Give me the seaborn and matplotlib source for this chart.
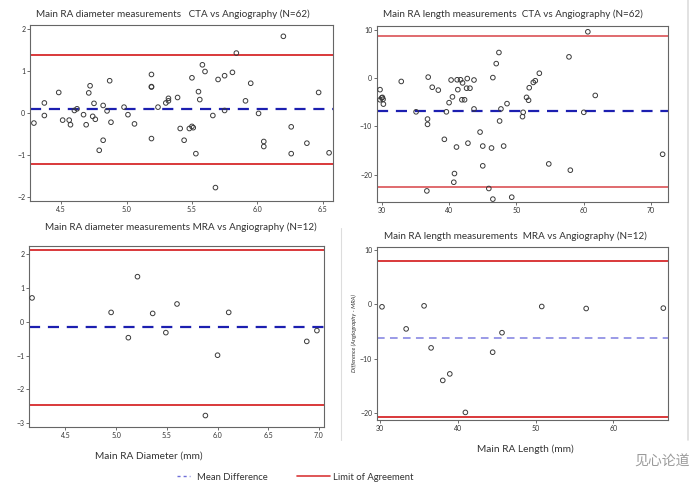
import matplotlib
matplotlib.use("Agg")
import matplotlib.pyplot as plt
import seaborn as sns
from matplotlib.lines import Line2D

# ---------------- data ----------------
cta_diam_x = [4.29, 4.37, 4.37, 4.48, 4.51, 4.56, 4.57, 4.60, 4.62, 4.67, 4.69, 4.71, 4.72, 4.74,
              4.75, 4.76, 4.79, 4.82, 4.82, 4.85, 4.87, 4.88, 4.98, 5.01, 5.06, 5.19, 5.19, 5.19,
              5.19, 5.24, 5.30, 5.32, 5.32, 5.39, 5.41, 5.44, 5.48, 5.50, 5.51, 5.50, 5.53, 5.55,
              5.56, 5.58, 5.60, 5.66, 5.68, 5.70, 5.75, 5.75, 5.81, 5.84, 5.91, 5.95, 6.01, 6.05,
              6.05, 6.20, 6.26, 6.26, 6.38, 6.47, 6.55]
cta_diam_y = [-0.24, 0.24, -0.06, 0.49, -0.17, -0.17, -0.28, 0.06, 0.10, -0.04, -0.28, 0.48, 0.65, -0.08,
              0.23, -0.15, -0.89, -0.65, 0.18, 0.05, 0.77, -0.22, 0.14, -0.04, -0.26, 0.63, 0.62, 0.92,
              -0.61, 0.14, 0.24, 0.35, 0.29, 0.37, -0.37, -0.65, -0.37, -0.32, -0.35, 0.84, -0.97, 0.51,
              0.32, 1.15, 0.99, -0.06, -1.78, 0.80, 0.06, 0.89, 0.97, 1.43, 0.29, 0.71, -0.01, -0.68,
              -0.80, 1.83, -0.33, -0.97, -0.72, 0.49, -0.95]
cta_diam_mean = 0.09
cta_diam_loa = [1.39, -1.22]

cta_len_x = [29.75, 29.75, 30.0, 30.1, 30.2, 30.25, 32.9, 35.1, 36.9, 36.8, 36.8, 36.7, 37.5, 38.4,
             39.3, 39.6, 40.0, 40.3, 40.5, 40.8, 40.7, 41.1, 41.2, 41.3, 41.7, 41.9, 42.0, 42.3,
             42.6, 42.7, 42.8, 43.1, 43.7, 43.7, 44.6, 45.0, 45.0, 45.9, 46.3, 46.5, 46.5, 47.0,
             47.4, 47.5, 47.7, 48.1, 48.6, 49.3, 50.9, 51.0, 51.5, 51.8, 51.9, 52.5, 52.8, 53.4,
             54.8, 57.8, 58.0, 60.0, 60.6, 61.7, 71.7]
cta_len_y = [-2.4, -4.5, -4.1, -4.0, -4.4, -5.4, -0.7, -7.0, 0.2, -8.5, -9.6, -23.4, -1.9, -2.5,
             -12.7, -7.0, -5.1, -0.4, -3.9, -19.8, -21.6, -14.3, -0.35, -2.4, -0.35, -4.5, -1.0, -4.5,
             -2.1, -0.1, -13.5, -2.1, -0.4, -6.4, -11.2, -14.1, -18.2, -22.9, -14.5, 0.1, -25.1, 3.0,
             5.3, -8.9, -6.4, -14.1, -5.3, -24.7, -8.0, -7.1, -4.0, -4.6, -2.0, -0.9, -0.55, 1.0,
             -17.8, 4.4, -19.1, -7.1, 9.6, -3.6, -15.8]
cta_len_mean = -6.86
cta_len_loa = [8.8, -22.6]

mra_diam_x = [4.17, 4.95, 5.12, 5.21, 5.36, 5.49, 5.60, 5.88, 6.00, 6.11, 6.88, 6.98]
mra_diam_y = [0.71, 0.28, -0.47, 1.34, 0.25, -0.32, 0.53, -2.78, -0.99, 0.28, -0.58, -0.26]
mra_diam_mean = -0.16
mra_diam_loa = [2.13, -2.46]

mra_len_x = [30.3, 33.4, 35.7, 36.6, 38.1, 39.0, 41.0, 44.5, 45.7, 50.8, 56.5, 66.4]
mra_len_y = [-0.43, -4.5, -0.25, -8.0, -14.0, -12.8, -19.9, -8.8, -5.2, -0.37, -0.74, -0.67]
mra_len_mean = -6.26
mra_len_loa = [8.1, -20.7]

titles = ["Main RA diameter measurements   CTA vs Angiography (N=62)",
          "Main RA length measurements  CTA vs Angiography (N=62)",
          "Main RA diameter measurements MRA vs Angiography (N=12)",
          "Main RA length measurements  MRA vs Angiography (N=12)"]
xlabels = ["", "", "Main RA Diameter (mm)", "Main RA Length (mm)"]
legend_labels = ["Mean Difference", "Limit of Agreement"]

# ---------------- figure ----------------
sns.set_style("white")
plt.rcParams['font.family'] = ['Lato', 'DejaVu Sans', 'Noto Sans CJK SC']

W, H = 696, 492
fig = plt.figure(figsize=(W / 100, H / 100), dpi=100)

def rect(x0, y0, x1, y1):
    return [x0 / W, 1 - y1 / H, (x1 - x0) / W, (y1 - y0) / H]

RED = "#d9383a"
BLUE = "#1c1fb0"

panels = [
    dict(r=rect(30, 25, 333, 201), x=cta_diam_x, y=cta_diam_y, mean=cta_diam_mean, loa=cta_diam_loa,
         xlim=(4.26, 6.58), ylim=(-2.1, 2.1), xt=[4.5, 5.0, 5.5, 6.0, 6.5], yt=[-2, -1, 0, 1, 2],
         xfmt="{:.1f}", red=RED, blue=BLUE, blw=1.6),
    dict(r=rect(377, 26, 668, 202), x=cta_len_x, y=cta_len_y, mean=cta_len_mean, loa=cta_len_loa,
         xlim=(29.3, 72.5), ylim=(-25.7, 10.8), xt=[30, 40, 50, 60, 70], yt=[-20, -10, 0, 10],
         xfmt="{:.0f}", red="#e06a6e", blue=BLUE, blw=1.6),
    dict(r=rect(29, 246, 324, 427), x=mra_diam_x, y=mra_diam_y, mean=mra_diam_mean, loa=mra_diam_loa,
         xlim=(4.14, 7.05), ylim=(-3.12, 2.25), xt=[4.5, 5.0, 5.5, 6.0, 6.5, 7.0], yt=[-3, -2, -1, 0, 1, 2],
         xfmt="{:.1f}", red=RED, blue=BLUE, blw=1.6),
    dict(r=rect(377, 247, 668, 420), x=mra_len_x, y=mra_len_y, mean=mra_len_mean, loa=mra_len_loa,
         xlim=(29.66, 67.0), ylim=(-21.3, 10.6), xt=[30, 40, 50, 60], yt=[-20, -10, 0, 10],
         xfmt="{:.0f}", red=RED, blue="#7f7fe0", blw=1.1),
]

title_pos = [(173, 14), (513, 14), (181, 227), (515, 236)]
axes = []
for i, p in enumerate(panels):
    ax = fig.add_axes(p["r"])
    axes.append(ax)
    for v in p["loa"]:
        ax.axhline(v, color=p["red"], lw=1.4, zorder=1)
    ax.axhline(p["mean"], color=p["blue"], lw=p["blw"], ls=(0, (5, 3.5)), zorder=1)
    sns.scatterplot(x=p["x"], y=p["y"], ax=ax, marker="o", s=11, facecolor="none",
                    edgecolor="#3a3a3a", linewidth=0.7, zorder=3)
    ax.set_xlim(*p["xlim"])
    ax.set_ylim(*p["ylim"])
    ax.set_xticks(p["xt"])
    ax.set_xticklabels([p["xfmt"].format(v) for v in p["xt"]])
    ax.set_yticks(p["yt"])
    ax.tick_params(axis="both", labelsize=5.0, length=2, width=0.6, color="#555555",
                   labelcolor="#333333", pad=1.5, left=True, bottom=True)
    for s in ax.spines.values():
        s.set_color("#666666")
        s.set_linewidth(0.8)
    ax.set_xlabel("")
    ax.set_ylabel("")
    tx, ty = title_pos[i]
    fig.text(tx / W, 1 - ty / H, titles[i], ha="center", va="center", fontsize=7.1, color="#333333")

axes[3].set_ylabel("Difference (Angiography - MRA)", fontsize=4.2, fontstyle="italic",
                   color="#333333", labelpad=2)
fig.text(149 / W, 1 - 456 / H, xlabels[2], ha="center", va="center", fontsize=7.3, color="#333333")
fig.text(525 / W, 1 - 449 / H, xlabels[3], ha="center", va="center", fontsize=7.3, color="#333333")

# light grey panel borders
fig.add_artist(Line2D([341 / W, 341 / W], [1 - 228 / H, 1 - 440 / H], color="#dddddd", lw=0.8))
fig.add_artist(Line2D([688 / W, 688 / W], [1 - 0 / H, 1 - 440 / H], color="#dddddd", lw=1.2))

# legend (two parts with different handle lengths)
h_mean = Line2D([], [], color="#6f6fd8", lw=1.0, ls=(0, (2.2, 2.2)))
h_loa = Line2D([], [], color=RED, lw=1.2)
leg1 = fig.legend([h_mean], [legend_labels[0]], loc="center left",
                  bbox_to_anchor=(177 / W, 1 - 477 / H), frameon=False, fontsize=6.8,
                  handlelength=1.4, handletextpad=0.7, borderpad=0, borderaxespad=0,
                  labelcolor="#333333")
leg2 = fig.legend([h_loa], [legend_labels[1]], loc="center left",
                  bbox_to_anchor=(297 / W, 1 - 477 / H), frameon=False, fontsize=6.8,
                  handlelength=3.5, handletextpad=0.3, borderpad=0, borderaxespad=0,
                  labelcolor="#333333")

# watermark
fig.text(690 / W, 1 - 462 / H, "见心论道", ha="right", va="center", fontsize=10,
         color="#9a9a9a", family=["Noto Sans CJK SC", "DejaVu Sans"])

fig.savefig("out.png", dpi=100)
